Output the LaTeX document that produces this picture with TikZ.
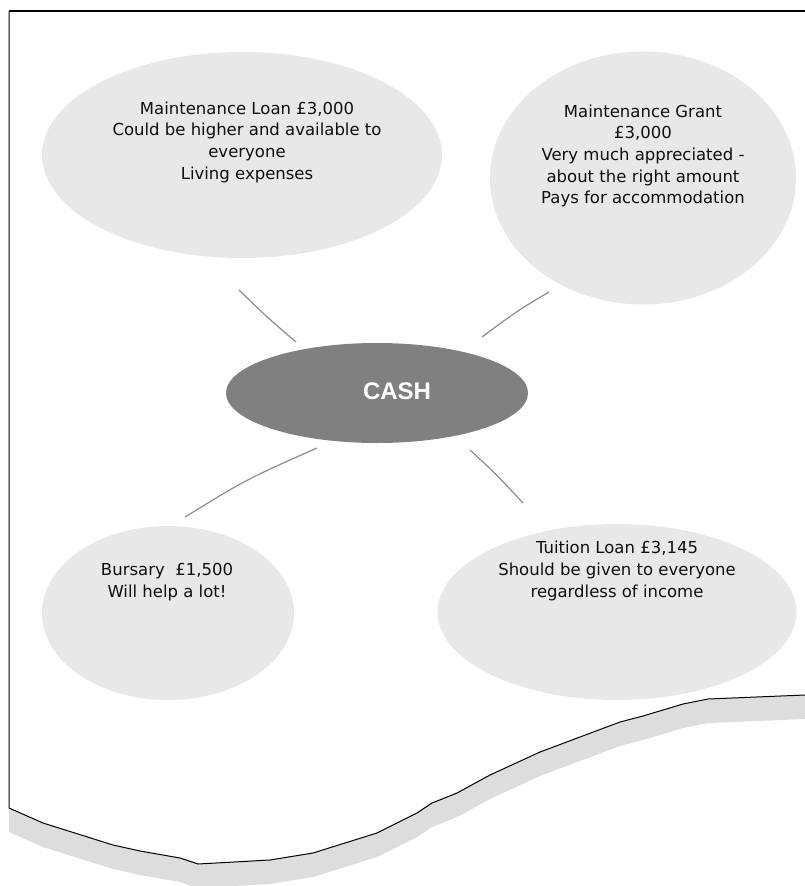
\documentclass[tikz,border=0pt]{standalone}
\usepackage{fontspec}
\setmainfont{DejaVu Sans}
\newfontfamily\headfont{Liberation Sans}
\usetikzlibrary{shapes.geometric}
\definecolor{bubble}{RGB}{232,232,232}
\definecolor{hub}{RGB}{128,128,128}
\definecolor{linkgrey}{RGB}{140,140,140}
\definecolor{sheetshadow}{RGB}{221,221,221}
\definecolor{ink}{RGB}{15,15,15}
\tikzset{
  bubblenode/.style={ellipse, fill=bubble, inner sep=0pt},
  hubnode/.style={ellipse, fill=hub, inner sep=0pt},
  note/.style={align=center, text=ink, inner sep=0pt,
    font=\fontsize{16.5}{21.7}\selectfont},
  link/.style={draw=linkgrey, line width=1.2pt},
  rim/.style={draw=black, line width=1pt, line join=round},
}
\begin{document}
\begin{tikzpicture}[x=1pt,y=-1pt]
\useasboundingbox (0,0) rectangle (805,886);
\fill[white] (0,0) rectangle (805,886);

% shadow under the torn lower edge
\fill[sheetshadow]
  (9,808) -- (43,823) -- (113,845) -- (140,851) -- (180,858) -- (198,864)
  -- (270,860) -- (313,853) -- (377,833) -- (417,813) -- (432,803)
  -- (457,793) -- (490,775) -- (540,752) -- (620,722) -- (643,716)
  -- (683,704) -- (708,699) -- (805,695)
  -- (805,719) -- (708,723) -- (683,728) -- (643,740) -- (620,746)
  -- (540,776) -- (490,799) -- (457,817) -- (432,827) -- (417,837)
  -- (377,857) -- (313,877) -- (270,884) -- (198,888) -- (180,882)
  -- (140,875) -- (113,869) -- (43,847) -- (9,832) -- cycle;

% sheet outline: top, left side and torn lower edge
\draw[rim, line width=1.6pt] (805,11) -- (9,11);
\draw[rim] (9,11) -- (9,808)
  -- (43,823) -- (113,845) -- (140,851) -- (180,858) -- (198,864)
  -- (270,860) -- (313,853) -- (377,833) -- (417,813) -- (432,803)
  -- (457,793) -- (490,775) -- (540,752) -- (620,722) -- (643,716)
  -- (683,704) -- (708,699) -- (805,695);

% bubbles
\node[bubblenode, minimum width=400pt, minimum height=206pt] (loan) at (242,155) {};
\node[bubblenode, minimum width=306pt, minimum height=253pt] (grant) at (643,178) {};
\node[bubblenode, minimum width=252pt, minimum height=174pt] (bursary) at (168,613) {};
\node[bubblenode, minimum width=359pt, minimum height=176pt] (tuition) at (617,612) {};
\node[hubnode, minimum width=302pt, minimum height=100pt] (cash) at (377,393) {};

% connector end points
\coordinate (loanA) at (239,290);
\coordinate (loanB) at (296,342);
\coordinate (grantA) at (549,292);
\coordinate (grantB) at (482,337);
\coordinate (bursA) at (317,448);
\coordinate (bursB) at (185,517);
\coordinate (tuitA) at (470,450);
\coordinate (tuitB) at (523,503);

\draw[link] (loanA) .. controls (268,318) .. (loanB);
\draw[link] (grantA) .. controls (517,311) .. (grantB);
\draw[link] (bursA) .. controls (247,479) .. (bursB);
\draw[link] (tuitA) .. controls (495,473) .. (tuitB);

% texts
\node[text=white, font=\headfont\bfseries\fontsize{24}{28}\selectfont] (cashtext) at (397,391) {CASH};
\node[note] (loantext) at (247,142) {Maintenance Loan £3,000\\Could be higher and available to\\everyone\\Living expenses};
\node[note] (granttext) at (643,156) {Maintenance Grant\\£3,000\\Very much appreciated -\\about the right amount\\Pays for accommodation};
\node[note] (burstext) at (167,582) {Bursary\ \ £1,500\\Will help a lot!};
\node[note] (tuittext) at (617,571) {Tuition Loan £3,145\\Should be given to everyone\\regardless of income};
\end{tikzpicture}
\end{document}
